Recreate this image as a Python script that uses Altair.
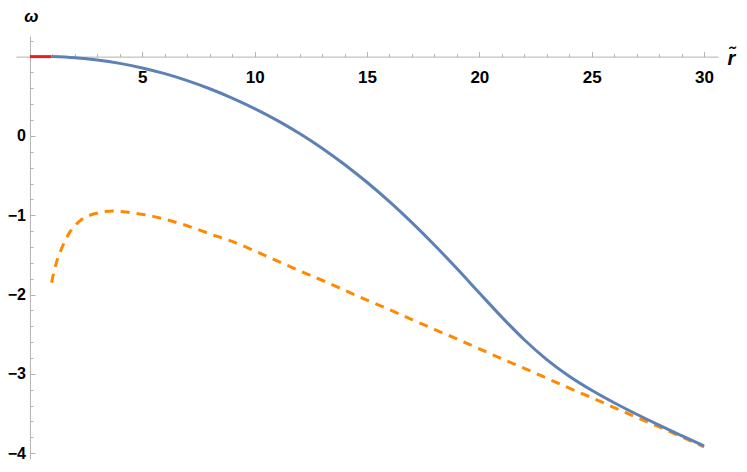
import altair as alt
import pandas as pd

# ---- data ----
blue_x = [0.95, 2, 3, 4, 5, 6, 7, 8, 9, 10, 11, 12, 13, 14, 15, 16, 17, 18, 19, 20,
          21, 22, 23, 24, 25, 26, 27, 28, 29, 30]
blue_y = [1.0, 0.985, 0.9575, 0.915, 0.8575, 0.785, 0.6975, 0.595, 0.4775, 0.345,
          0.1965, 0.0305, -0.1545, -0.3595, -0.5845, -0.8295, -1.0935, -1.375, -1.6725,
          -1.98, -2.285, -2.57, -2.82, -3.03, -3.2075, -3.365, -3.51, -3.6475, -3.78,
          -3.91]

orange_x = [0.96, 1.19, 1.41, 1.78, 2.23, 2.97, 3.71, 4.45, 5.19, 5.93, 6.68, 7.42, 8.16,
            9, 10, 11, 12, 13, 14, 15, 16, 17, 18, 19, 20, 21, 22, 23, 24, 25, 26, 27,
            28, 29, 30]
orange_y = [-1.85, -1.585, -1.42, -1.21, -1.07, -0.975, -0.946, -0.967, -0.996, -1.045,
            -1.105, -1.175, -1.25, -1.33, -1.45, -1.575, -1.70, -1.82, -1.945, -2.07,
            -2.19, -2.315, -2.44, -2.56, -2.685, -2.81, -2.93, -3.055, -3.18, -3.30,
            -3.425, -3.55, -3.67, -3.795, -3.92]

red_x = [0.0, 0.95]
red_y = [1.0, 1.0]

x_major = [5, 10, 15, 20, 25, 30]
x_minor = [1, 2, 3, 4, 6, 7, 8, 9, 11, 12, 13, 14, 16, 17, 18, 19, 21, 22, 23, 24,
           26, 27, 28, 29]
y_major = [0, -1, -2, -3, -4]
y_minor = [-3.8, -3.6, -3.4, -3.2, -2.8, -2.6, -2.4, -2.2, -1.8, -1.6, -1.4, -1.2,
           -0.8, -0.6, -0.4, -0.2, 0.2, 0.4, 0.6, 0.8, 1.2]

X_DOM = [-0.62, 30.62]
Y_DOM = [-4.074, 1.26]
X_AXIS_AT = 1.0   # y value where the horizontal axis crosses
Y_AXIS_AT = 0.0   # x value where the vertical axis crosses

# ---- layout ----
W, H = 702, 423
px_y_axis = (Y_AXIS_AT - X_DOM[0]) / (X_DOM[1] - X_DOM[0]) * W
py_x_axis = (Y_DOM[1] - X_AXIS_AT) / (Y_DOM[1] - Y_DOM[0]) * H

BLUE = "#5E81B5"
ORANGE = "#FF8A00"
RED = "#EE1C1C"
AXC = "#b3b3b3"
FONT = "Liberation Sans"

xs = alt.Scale(domain=X_DOM, nice=False, zero=False)
ys = alt.Scale(domain=Y_DOM, nice=False, zero=False)

major_x = alt.Axis(orient="top", offset=-py_x_axis, values=x_major, grid=False,
                   tickSize=5, tickColor=AXC, tickWidth=1, domainColor=AXC, domainWidth=1,
                   labelPadding=-18, labelBaseline="top", labelFlush=False, labelOverlap=False,
                   labelFont=FONT, labelFontSize=17, labelFontWeight="bold", labelColor="black",
                   title="r\u0303", titleX=715, titleY=1.5, titleAngle=0, titleAlign="center",
                   titleBaseline="middle", titleFont=FONT, titleFontSize=20,
                   titleFontStyle="italic", titleFontWeight="bold", titleColor="black")

major_y = alt.Axis(orient="right", offset=-(W - px_y_axis), values=y_major, grid=False,
                   tickSize=5, tickColor=AXC, tickWidth=1, domainColor=AXC, domainWidth=1,
                   labelPadding=-9.5, labelAlign="right", labelBaseline="middle",
                   labelFlush=False, labelOverlap=False,
                   labelExpr="datum.value < 0 ? '\u2212' + format(-datum.value, 'd') : format(datum.value, 'd')",
                   labelFont=FONT, labelFontSize=16, labelFontWeight="bold", labelColor="black",
                   title="\u03c9", titleX=1, titleY=-19.5, titleAngle=0, titleAlign="center",
                   titleBaseline="middle", titleFont=FONT, titleFontSize=17,
                   titleFontStyle="italic", titleFontWeight="bold", titleColor="black")

minor_x = alt.Axis(orient="top", offset=-py_x_axis, values=x_minor, grid=False,
                   tickSize=3, tickColor=AXC, tickWidth=1, domain=False, labels=False, title="")

minor_y = alt.Axis(orient="right", offset=-(W - px_y_axis), values=y_minor, grid=False,
                   tickSize=3, tickColor=AXC, tickWidth=1, domain=False, labels=False, title="")

blue_df = pd.DataFrame({"r": blue_x, "w": blue_y})
orange_df = pd.DataFrame({"r": orange_x, "w": orange_y})
red_df = pd.DataFrame({"r": red_x, "w": red_y})

blue = alt.Chart(blue_df).mark_line(color=BLUE, strokeWidth=3, interpolate="monotone").encode(
    x=alt.X("r:Q", scale=xs, axis=major_x),
    y=alt.Y("w:Q", scale=ys, axis=major_y),
)
orange = alt.Chart(orange_df).mark_line(color=ORANGE, strokeWidth=3, strokeDash=[9, 7],
                                        interpolate="monotone").encode(
    x=alt.X("r:Q", scale=xs, axis=None),
    y=alt.Y("w:Q", scale=ys, axis=None),
)
red = alt.Chart(red_df).mark_line(color=RED, strokeWidth=3).encode(
    x=alt.X("r:Q", scale=xs, axis=minor_x),
    y=alt.Y("w:Q", scale=ys, axis=minor_y),
)

chart = (
    alt.layer(red, orange, blue)
    .resolve_axis(x="independent", y="independent")
    .properties(width=W, height=H, autosize=alt.AutoSizeParams(type="none"),
                padding={"left": 8, "top": 28, "right": 21, "bottom": 3})
    .configure_view(stroke=None)
)

chart.save("out.html", embed_options={"renderer": "svg", "actions": False})
